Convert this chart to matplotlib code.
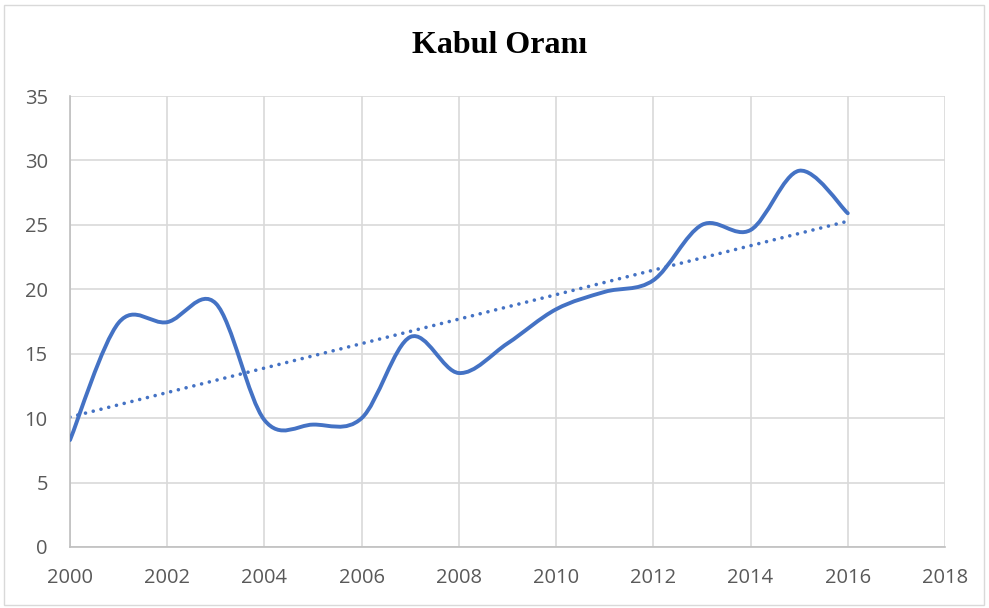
import matplotlib.pyplot as plt
import numpy as np
from matplotlib.path import Path
from matplotlib.patches import PathPatch, Rectangle

# Kabul oranı by year
years = np.arange(2000, 2017)
rates = [8.3, 17.4, 17.45, 18.9, 9.85, 9.5, 10.0, 16.3, 13.5,
         15.8, 18.45, 19.8, 20.7, 25.0, 24.6, 29.2, 25.9]
x_ticks = list(range(2000, 2019, 2))
y_ticks = list(range(0, 36, 5))

BLUE = "#4472C4"
GRID = "#D9D9D9"
TEXT = "#595959"


def smooth_path(xs, ys):
    # Excel-style smoothed line: Catmull-Rom segments as cubic Beziers
    pts = np.column_stack([xs, ys]).astype(float)
    n = len(pts)
    verts = [pts[0]]
    codes = [Path.MOVETO]
    for i in range(n - 1):
        p0 = pts[max(i - 1, 0)]
        p1 = pts[i]
        p2 = pts[i + 1]
        p3 = pts[min(i + 2, n - 1)]
        c1 = p1 + (p2 - p0) / 6
        c2 = p2 - (p3 - p1) / 6
        verts += [c1, c2, p2]
        codes += [Path.CURVE4] * 3
    return Path(verts, codes)


fig = plt.figure(figsize=(9.89, 6.08), dpi=100)
ax = fig.add_axes([70 / 989, 1 - 547 / 608, 875 / 989, 451 / 608])

ax.add_patch(PathPatch(smooth_path(years, rates), fill=False,
                       edgecolor=BLUE, linewidth=2.8, capstyle="round",
                       joinstyle="round", zorder=3))

# linear trendline
slope, icept = np.polyfit(years, rates, 1)
ax.plot(years, slope * years + icept, color=BLUE, linewidth=2.6,
        linestyle=(0, (0.01, 2.2)), dash_capstyle="round", zorder=2)

ax.set_xlim(2000, 2018)
ax.set_ylim(0, 35)
ax.set_xticks(x_ticks)
ax.set_yticks(y_ticks)
ax.grid(True, color=GRID, linewidth=1.2, zorder=0)
ax.set_axisbelow(True)
for side in ["top", "right"]:
    ax.spines[side].set_visible(False)
for side in ["left", "bottom"]:
    ax.spines[side].set_color("#BFBFBF")
    ax.spines[side].set_linewidth(1.2)
ax.tick_params(length=0, labelsize=14.5, labelcolor=TEXT)
ax.tick_params(axis="x", pad=15)
ax.tick_params(axis="y", pad=16)
for lbl in ax.get_xticklabels() + ax.get_yticklabels():
    lbl.set_fontfamily("Open Sans")

fig.text(0.505, 0.925, "Kabul Oranı", ha="center", va="center",
         fontsize=23, fontweight="bold", family="Liberation Serif")

fig.patches.append(Rectangle((4 / 989, 3 / 608), 980 / 989, 600 / 608,
                             transform=fig.transFigure, fill=False,
                             edgecolor=GRID, linewidth=1.0))

fig.savefig("out.png", dpi=100)
